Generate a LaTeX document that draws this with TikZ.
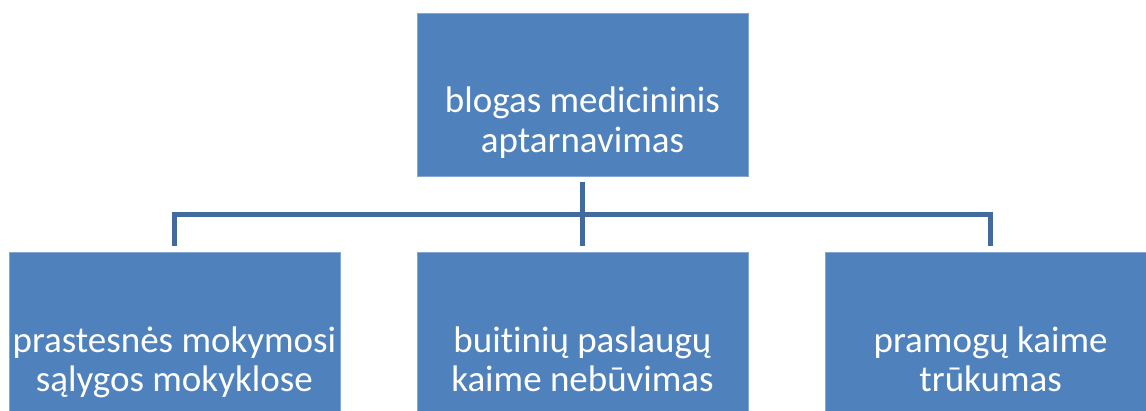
\documentclass[tikz,border=0pt]{standalone}
\usepackage{fontspec}
\setmainfont{Carlito}[Ligatures=NoCommon]
\usetikzlibrary{positioning,calc}
\definecolor{boxblue}{RGB}{79,129,189}
\definecolor{lineblue}{RGB}{65,106,158}
\tikzset{
  cause/.style={fill=boxblue, draw=boxblue!70!white, line width=0.6pt,
    minimum width=331pt, minimum height=163pt, inner sep=0pt},
  causetext/.style={text=white, align=center, yshift=-30pt,
    font=\fontsize{37}{39.5}\selectfont},
  link/.style={draw=lineblue, line width=5pt, shorten <=6pt, shorten >=6pt}
}

\begin{document}
\begin{tikzpicture}[x=1pt,y=1pt]

	\useasboundingbox (0,0) rectangle (1146,-410);

	\node[cause, label={[causetext]center:{\strut blogas medicininis\\\strut aptarnavimas}}] (top) at (582.5,-94.5) {}; %main problem
	\node[cause, below=76pt of top, label={[causetext]center:{\strut buitinių paslaugų\\\strut kaime nebūvimas}}] (mid) {};
	\node[cause, left=76.5pt of mid, label={[causetext]center:{\strut prastesnės mokymosi\\\strut sąlygos mokyklose}}] (left) {};
	\node[cause, right=76.5pt of mid, label={[causetext]center:{\strut pramogų kaime\\\strut trūkumas}}] (right) {};

	\coordinate (bar) at ($(top.south)!.5!(mid.north)$); %level of the branch line

	\draw[link] (top) -- (mid);
	\draw[link] (left.north) |- (bar) -| (right.north);

\end{tikzpicture}
\end{document}
